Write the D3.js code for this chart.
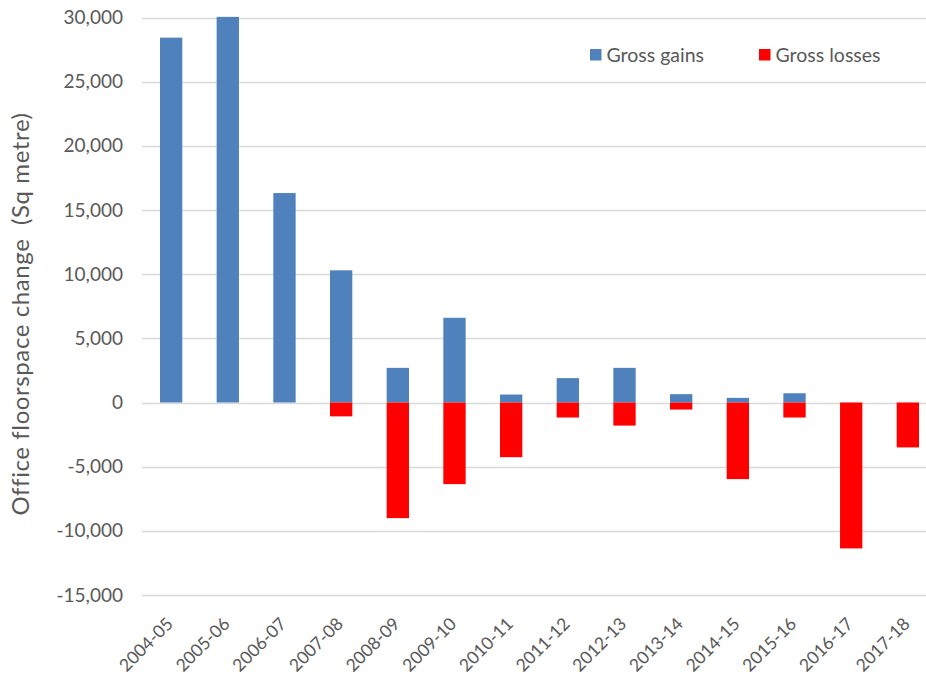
<!DOCTYPE html>
<html>
<head>
<meta charset="utf-8">
<script src="https://cdn.jsdelivr.net/npm/d3@7"></script>
<style>
  body { margin: 0; background: #fff; }
  text { font-family: Lato, "Open Sans", sans-serif; }
</style>
</head>
<body>
<script>
var years = ["2004-05", "2005-06", "2006-07", "2007-08", "2008-09", "2009-10", "2010-11",
             "2011-12", "2012-13", "2013-14", "2014-15", "2015-16", "2016-17", "2017-18"];
var gains = [28430, 30050, 16320, 10300, 2700, 6600, 620, 1900, 2700, 650, 360, 720, 0, 0];
var losses = [0, 0, 0, -1080, -9010, -6360, -4260, -1170, -1800, -550, -5970, -1170, -11370, -3500];
var yTicks = [-15000, -10000, -5000, 0, 5000, 10000, 15000, 20000, 25000, 30000];

var width = 926, height = 678;
var plotLeft = 142.8, plotRight = 936.2, plotTop = 17.5, plotBottom = 595;

var svg = d3.select("body").append("svg")
  .attr("width", width)
  .attr("height", height);

var x = d3.scaleBand()
  .domain(years)
  .range([plotLeft, plotRight])
  .paddingInner(0.606)
  .paddingOuter(0.303);

var y = d3.scaleLinear()
  .domain([-15000, 30000])
  .range([plotBottom, plotTop]);

var fmt = function(d) { return d3.format(",")(d).replace("\u2212", "-"); };

// gridlines
svg.append("g")
  .selectAll("line")
  .data(yTicks)
  .enter()
  .append("line")
  .attr("x1", 142)
  .attr("x2", width)
  .attr("y1", function(d) { return Math.round(y(d)) + 0.5; })
  .attr("y2", function(d) { return Math.round(y(d)) + 0.5; })
  .attr("stroke", "#d9d9d9")
  .attr("stroke-width", 1.5);

// y tick labels
svg.append("g")
  .selectAll("text")
  .data(yTicks)
  .enter()
  .append("text")
  .attr("x", 123)
  .attr("y", function(d) { return y(d); })
  .attr("dy", "0.35em")
  .attr("text-anchor", "end")
  .attr("font-size", "19px")
  .attr("fill", "#595959")
  .text(fmt);

// bars
svg.append("g")
  .selectAll("rect")
  .data(gains)
  .enter()
  .append("rect")
  .attr("x", function(d, i) { return x(years[i]); })
  .attr("width", x.bandwidth())
  .attr("y", function(d) { return y(d); })
  .attr("height", function(d) { return y(0) - y(d); })
  .attr("fill", "#4f81bd");

svg.append("g")
  .selectAll("rect")
  .data(losses)
  .enter()
  .append("rect")
  .attr("x", function(d, i) { return x(years[i]); })
  .attr("width", x.bandwidth())
  .attr("y", y(0))
  .attr("height", function(d) { return y(d) - y(0); })
  .attr("fill", "#ff0000");

// x labels
svg.append("g")
  .selectAll("text")
  .data(years)
  .enter()
  .append("text")
  .attr("transform", function(d) {
    return "translate(" + (x(d) + x.bandwidth() / 2 + 3) + "," + 625 + ") rotate(-45)";
  })
  .attr("text-anchor", "end")
  .attr("font-size", "17.5px")
  .attr("fill", "#595959")
  .text(function(d) { return d; });

// y axis title
svg.append("text")
  .attr("transform", "translate(29," + 314 + ") rotate(-90)")
  .attr("text-anchor", "middle")
  .attr("font-size", "24px")
  .attr("letter-spacing", "0.6px")
  .attr("fill", "#595959")
  .attr("xml:space", "preserve")
  .text("Office floorspace change  (Sq metre)");

// legend
var legend = [{name: "Gross gains", color: "#4f81bd", x: 590}, {name: "Gross losses", color: "#ff0000", x: 759}];
var lg = svg.append("g").selectAll("g").data(legend).enter().append("g");
lg.append("rect")
  .attr("x", function(d) { return d.x; })
  .attr("y", 49)
  .attr("width", 11.5)
  .attr("height", 11.5)
  .attr("fill", function(d) { return d.color; });
lg.append("text")
  .attr("x", function(d) { return d.x + 16.5; })
  .attr("y", 61.5)
  .attr("font-size", "19.5px")
  .attr("fill", "#595959")
  .text(function(d) { return d.name; });
</script>
</body>
</html>
